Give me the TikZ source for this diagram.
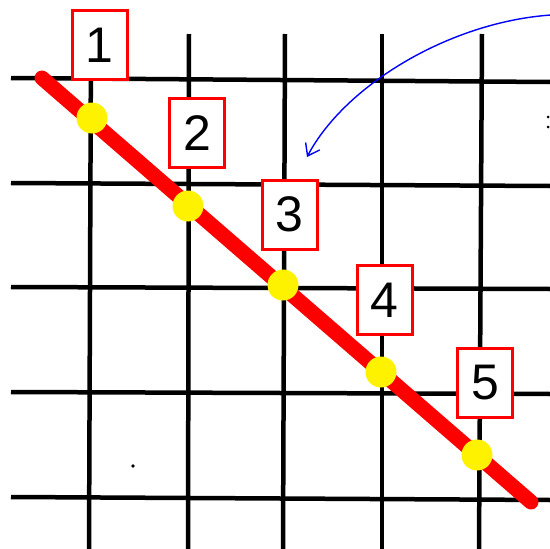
\documentclass[tikz,border=0pt]{standalone}
\usepackage{fontspec}
\setmainfont{Liberation Sans}
\usetikzlibrary{arrows.meta}
\begin{document}
\begin{tikzpicture}[x=1pt,y=-1pt,
  gridline/.style={black,line width=4.5pt},
  redline/.style={red,line width=15pt,line cap=round},
  ydot/.style={circle,fill=yellow,inner sep=0pt,minimum size=31pt},
  numbox/.style={draw=red,line width=3pt,fill=white,minimum width=55pt,minimum height=69pt,inner sep=0pt,font=\fontsize{50}{50}\selectfont},
  bluearrow/.style={blue,line width=1.4pt,-{Straight Barb[length=11pt,width=16pt,line width=1.4pt]}}]
\useasboundingbox (0,0) rectangle (550,549);
\fill[white] (0,0) rectangle (550,549);
% grid
\draw[gridline] (11,78) -- (550,82);
\draw[gridline] (11,183) -- (550,186);
\draw[gridline] (11,287) -- (550,289);
\draw[gridline] (11,392) -- (550,394);
\draw[gridline] (11,497) -- (550,500);
\draw[gridline] (91,34) -- (89,549);
\draw[gridline] (189,34) -- (188,549);
\draw[gridline] (285,34) -- (283,549);
\draw[gridline] (382,34) -- (382,549);
\draw[gridline] (482,34) -- (479,549);
\fill[black] (133,466) circle (1.8);
\fill[black] (548,117) circle (1.5);
\fill[black] (548,127) circle (1.5);
% red line
\coordinate (rs) at (42,78);
\coordinate (re) at (531,502);
\draw[redline] (rs) -- (re);
% dots
\node[ydot] (d1) at (92,118) {};
\node[ydot] (d2) at (188,206) {};
\node[ydot] (d3) at (283,285) {};
\node[ydot] (d4) at (381,372) {};
\node[ydot] (d5) at (477,455) {};
% boxes
\node[numbox] (b1) at (99.5,45) {1};
\node[numbox] (b2) at (197,133) {2};
\node[numbox] (b3) at (289.5,214.5) {3};
\node[numbox] (b4) at (384.5,300) {4};
\node[numbox] (b5) at (485,383) {5};
% blue arrow
\coordinate (as) at (551,15);
\coordinate (ae) at (307,157);
\draw[bluearrow] (as) .. controls (450,22) and (345,85) .. (ae);
\end{tikzpicture}
\end{document}
